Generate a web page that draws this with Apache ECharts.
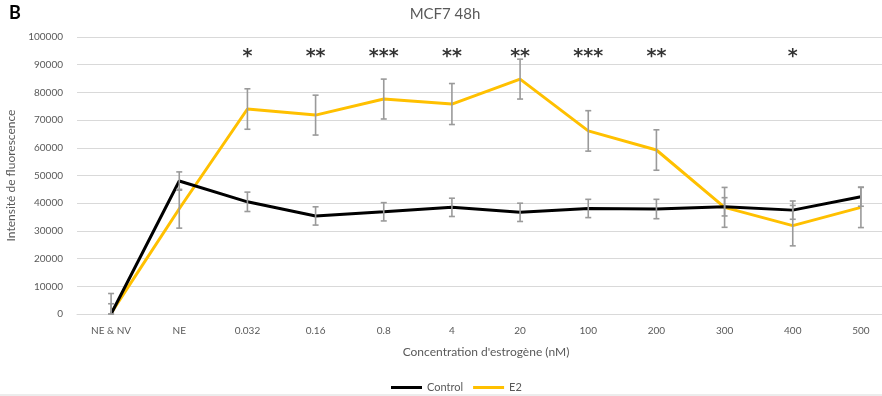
<!DOCTYPE html>
<html><head><meta charset="utf-8">
<script src="https://cdn.jsdelivr.net/npm/echarts@6/dist/echarts.min.js"></script>
<style>html,body{margin:0;padding:0;background:#fff}#c{width:882px;height:396px}</style>
</head><body><div id="c"></div>
<script>
const categories = ['NE & NV','NE','0.032','0.16','0.8','4','20','100','200','300','400','500'];
const controlValues = [0, 48000, 40500, 35400, 36900, 38500, 36700, 38100, 37900, 38700, 37500, 42300];
const controlErrors = [7400, 3300, 3500, 3300, 3300, 3300, 3300, 3300, 3500, 3300, 3300, 3400];
const e2Values = [300, 38000, 74000, 71800, 77600, 75800, 84800, 66100, 59200, 38500, 31900, 38500];
const e2Errors = [3400, 7000, 7300, 7200, 7200, 7400, 7200, 7300, 7300, 7200, 7300, 7300];
const stars = ['', '', '*', '**', '***', '**', '**', '***', '**', '', '*', ''];
const starLevel = 92800;
const yTicks = {min: 0, max: 100000, interval: 10000};

const font = 'Lato, "Open Sans", sans-serif';
const chart = echarts.init(document.getElementById('c'));

function errSeries(name, vals, errs) {
  return {
    type: 'custom', name: name + '_err', z: 5, silent: true, clip: false,
    data: vals.map((v, i) => [i, Math.max(0, v - errs[i]), v + errs[i]]),
    renderItem: function (params, api) {
      const x = api.value(0);
      const lo = api.coord([x, api.value(1)]);
      const hi = api.coord([x, api.value(2)]);
      const w = 3;
      const st = {stroke: '#9a9a9a', lineWidth: 1.6};
      return {type: 'group', children: [
        {type: 'line', shape: {x1: lo[0], y1: lo[1], x2: hi[0], y2: hi[1]}, style: st},
        {type: 'line', shape: {x1: lo[0]-w, y1: lo[1], x2: lo[0]+w, y2: lo[1]}, style: st},
        {type: 'line', shape: {x1: hi[0]-w, y1: hi[1], x2: hi[0]+w, y2: hi[1]}, style: st}
      ]};
    }
  };
}

chart.setOption({
  animation: false,
  textStyle: {fontFamily: font},
  title: {text: 'MCF7 48h', left: 440, textAlign: 'center', top: 2,
    textStyle: {fontFamily: font, fontSize: 15, fontWeight: 'normal', color: '#595959'}},
  graphic: [
    {type: 'text', left: 9, top: 4, style: {text: 'B', fontFamily: font, fontSize: 18, fontWeight: 'bold', fill: '#000'}},
    {type: 'line', shape: {x1: 0, y1: 395, x2: 882, y2: 395}, style: {stroke: '#d9d9d9', lineWidth: 1}}
  ],
  legend: {
    data: ['Control', 'E2'], bottom: -2, left: 386, icon: 'rect',
    itemWidth: 31, itemHeight: 3, itemGap: 10,
    textStyle: {fontFamily: font, fontSize: 11, color: '#595959'}
  },
  grid: {left: 77, top: 37, width: 818, height: 277, containLabel: false, outerBoundsMode: 'none'},
  xAxis: {
    type: 'category', data: categories, boundaryGap: true,
    name: "Concentration d'estrogène (nM)", nameLocation: 'middle', nameGap: 32,
    nameTextStyle: {fontFamily: font, fontSize: 12, color: '#595959'},
    axisLine: {show: true, lineStyle: {color: '#d9d9d9'}},
    axisTick: {show: false},
    axisLabel: {color: '#595959', fontSize: 10, fontFamily: font, margin: 12, interval: 0}
  },
  yAxis: {
    type: 'value', min: yTicks.min, max: yTicks.max, interval: yTicks.interval,
    name: 'Intensité de fluorescence', nameLocation: 'middle', nameGap: 52,
    nameTextStyle: {fontFamily: font, fontSize: 12, color: '#595959'},
    axisLine: {show: false}, axisTick: {show: false},
    axisLabel: {color: '#595959', fontSize: 10, fontFamily: font, margin: 14, formatter: v => String(v)},
    splitLine: {lineStyle: {color: '#d9d9d9', width: 1}}
  },
  series: [
    {name: 'Control', type: 'line', data: controlValues, showSymbol: false, z: 3,
      lineStyle: {color: '#000', width: 3}, itemStyle: {color: '#000'}},
    {name: 'E2', type: 'line', data: e2Values, showSymbol: false, z: 2,
      lineStyle: {color: '#FFC000', width: 3}, itemStyle: {color: '#FFC000'}},
    errSeries('Control', controlValues, controlErrors),
    errSeries('E2', e2Values, e2Errors),
    {name: 'stars', type: 'scatter', symbolSize: 0, silent: true, z: 6,
      data: stars.map((s, i) => [i, starLevel, s]),
      label: {show: true, position: 'inside', formatter: p => p.value[2],
        fontSize: 19, fontWeight: 'bold', color: '#000', fontFamily: 'DejaVu Sans'}}
  ]
});
</script></body></html>
